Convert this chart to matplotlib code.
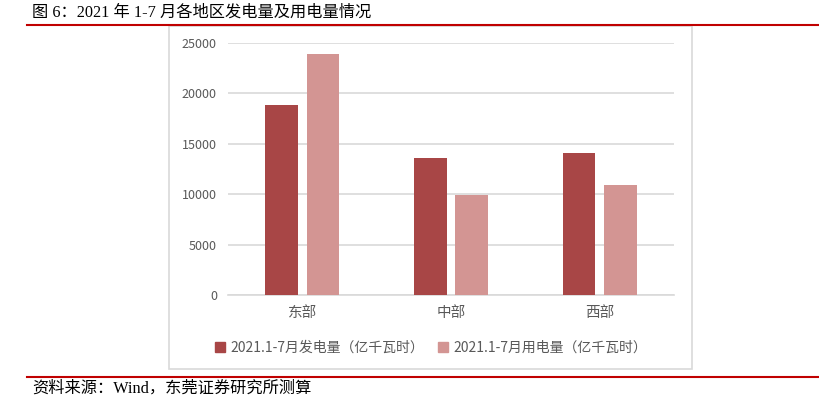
import matplotlib
matplotlib.use("Agg")
import matplotlib.pyplot as plt
from matplotlib.patches import Rectangle
from matplotlib.lines import Line2D
import numpy as np

plt.rcParams['font.family'] = ['Noto Sans CJK SC', 'DejaVu Sans']

categories = ['东部', '中部', '西部']
generation = [18800, 13600, 14100]
consumption = [23900, 9900, 10900]
series_names = ['2021.1-7月发电量（亿千瓦时）', '2021.1-7月用电量（亿千瓦时）']
yticks = [0, 5000, 10000, 15000, 20000, 25000]
title = '图 6：2021 年 1-7 月各地区发电量及用电量情况'
source = '资料来源：Wind，东莞证券研究所测算'

c1 = '#A84646'
c2 = '#D39593'

W, H = 819, 399
fig = plt.figure(figsize=(W/100, H/100), dpi=100)

def fx(px): return px / W
def fy(py): return 1 - py / H

# outer chart box
fig.patches.append(Rectangle((fx(169), fy(369)), fx(692) - fx(169), fy(26) - fy(369),
                             transform=fig.transFigure, fill=False, edgecolor='#D9D9D9', lw=1.2))
# red lines
fig.add_artist(Line2D([fx(27), 1.0], [fy(24.5), fy(24.5)], color='#C00000', lw=1.5, transform=fig.transFigure))
fig.add_artist(Line2D([fx(27), 1.0], [fy(376.5), fy(376.5)], color='#C00000', lw=1.5, transform=fig.transFigure))

serif = ['Liberation Serif', 'Noto Sans CJK SC', 'DejaVu Sans']
fig.text(fx(32), fy(13), title, fontsize=11.7, va='center', ha='left', color='black', family=serif)
fig.text(fx(32), fy(389), source, fontsize=11.7, va='center', ha='left', color='black', family=serif)

ax = fig.add_axes([fx(228), fy(295), fx(674) - fx(228), fy(43) - fy(295)])
x = np.arange(len(categories))
bw = 0.22
off = 0.14
ax.bar(x - off, generation, bw, color=c1, label=series_names[0], zorder=3)
ax.bar(x + off, consumption, bw, color=c2, label=series_names[1], zorder=3)
ax.set_xlim(-0.5, 2.5)
ax.set_ylim(0, 25000)
ax.set_yticks(yticks)
ax.set_yticklabels([str(v) for v in yticks], color='#595959', fontsize=9)
ax.set_xticks(x)
ax.set_xticklabels(categories, color='#595959', fontsize=10.5)
ax.tick_params(axis='y', length=0, pad=8)
ax.tick_params(axis='x', length=0, pad=8)
ax.grid(axis='y', color='#D9D9D9', lw=1.2, zorder=0)
for s in ['top', 'right', 'left']:
    ax.spines[s].set_visible(False)
ax.spines['bottom'].set_color('#D9D9D9')
ax.spines['bottom'].set_linewidth(1.2)

handles = [Rectangle((0, 0), 1, 1, color=c1), Rectangle((0, 0), 1, 1, color=c2)]
leg = fig.legend(handles, series_names, loc='center', bbox_to_anchor=(fx(431), fy(348)),
                 ncol=2, frameon=False, fontsize=10, handlelength=0.7, handleheight=0.7,
                 handletextpad=0.4, columnspacing=1.0)
for t in leg.get_texts():
    t.set_color('#595959')

fig.savefig('out.png', dpi=100)
